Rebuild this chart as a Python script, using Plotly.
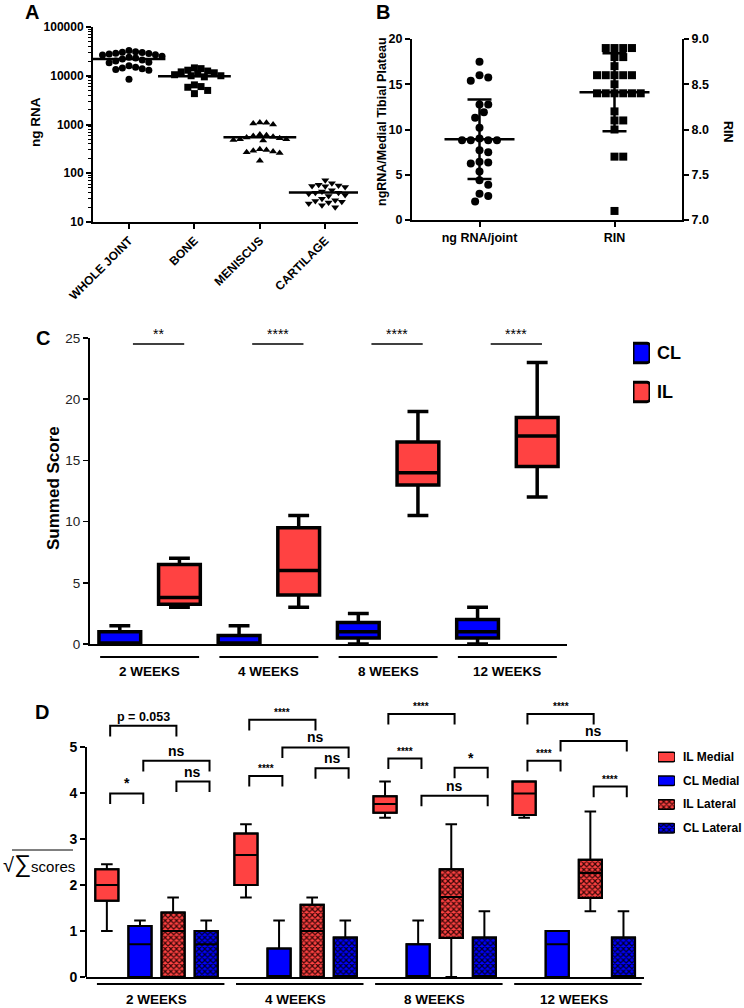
import numpy as np
import plotly.graph_objects as go

W, H = 744, 1008
FONT = "Arial, 'Liberation Sans', Helvetica, sans-serif"
BLUE = "#0000ff"
RED = "#ff4242"
DARK_RED = "#3a0606"
DARK_BLUE = "#00002a"

# ---------------- panel A: RNA yield per tissue (log scale)
tissues = ["WHOLE JOINT", "BONE", "MENISCUS", "CARTILAGE"]
whole_joint = [33000, 31000, 30500, 30000, 29000, 28500, 28000, 27000, 26500, 25000,
               24000, 23000, 22000, 21000, 20000, 19000, 18500, 16000, 15000, 14500,
               14000, 13500, 13000, 8500]
bone = [14500, 14000, 13000, 12500, 12000, 11500, 11000, 10500, 10000, 10000,
        9500, 6500, 6000, 5800, 5000, 4300]
meniscus = [1100, 1080, 1050, 1000, 620, 600, 580, 560, 540, 520, 500, 500, 480,
            470, 310, 300, 290, 280, 270, 260, 180]
cartilage = [72, 62, 58, 56, 55, 54, 52, 45, 42, 40, 40, 38, 36, 34, 30, 28, 27,
             26, 25, 24, 22, 20]
a_series = [whole_joint, bone, meniscus, cartilage]
a_symbols = ["circle", "square", "triangle-up", "triangle-down"]

# ---------------- panel B: ng RNA per joint and RIN
ng_rna_joint = [17.5, 16.0, 15.75, 15.4, 12.75, 12.75, 11.9, 11.3, 10.2, 9.0, 8.8,
                8.8, 8.8, 8.8, 7.7, 7.5, 6.45, 6.35, 6.25, 5.35, 4.4, 3.9, 2.9, 2.65,
                2.05]
rin = [8.9, 8.9, 8.9, 8.9, 8.8, 8.8, 8.7, 8.6, 8.6, 8.6, 8.6, 8.6, 8.5, 8.4, 8.4,
       8.4, 8.4, 8.4, 8.4, 8.2, 8.1, 8.1, 8.0, 7.7, 7.7, 7.1]
b_labels = ["ng RNA/joint", "RIN"]

# ---------------- panel C: summed score, CL vs IL
weeks = ["2 WEEKS", "4 WEEKS", "8 WEEKS", "12 WEEKS"]
c_names = ["CL", "IL"]
cl_min = [0, 0, 0, 0]
cl_q1 = [0, 0, 0.5, 0.5]
cl_med = [0, 0, 1.0, 1.0]
cl_q3 = [1.0, 0.7, 1.75, 2.0]
cl_max = [1.5, 1.5, 2.5, 3.0]
il_min = [3.0, 3.0, 10.5, 12.0]
il_q1 = [3.25, 4.0, 13.0, 14.5]
il_med = [3.8, 6.0, 14.0, 17.0]
il_q3 = [6.5, 9.5, 16.5, 18.5]
il_max = [7.0, 10.5, 19.0, 23.0]
c_sig = ["**", "****", "****", "****"]

# ---------------- panel D: sqrt of summed scores, medial / lateral
d_names = ["IL Medial", "CL Medial", "IL Lateral", "CL Lateral"]
d_min = [[1.0, 1.73, 3.46, 3.46], [0, 0, 0, 0], [0, 0, 0, 1.43], [0, 0, 0, 0]]
d_q1 = [[1.66, 2.0, 3.57, 3.52], [0, 0, 0, 0], [0, 0, 0.85, 1.72], [0, 0, 0, 0]]
d_med = [[2.0, 2.65, 3.76, 3.99], [0.71, 0, 0, 0.71], [1.0, 1.0, 1.74, 2.26],
         [0.71, 0, 0, 0]]
d_q3 = [[2.34, 3.12, 3.93, 4.25], [1.11, 0.62, 0.71, 1.0], [1.40, 1.57, 2.34, 2.55],
        [1.0, 0.86, 0.86, 0.86]]
d_max = [[2.45, 3.32, 4.25, 4.25], [1.23, 1.23, 1.23, 1.0], [1.73, 1.73, 3.32, 3.6],
         [1.23, 1.23, 1.43, 1.43]]
# (week, series a, series b, bracket height, label)
d_comparisons = [
    (0, 0, 2, 5.46, "p = 0.053"), (0, 1, 3, 4.70, "ns"), (0, 0, 1, 3.99, "*"),
    (0, 2, 3, 4.25, "ns"),
    (1, 0, 2, 5.59, "****"), (1, 1, 3, 4.99, "ns"), (1, 0, 1, 4.37, "****"),
    (1, 2, 3, 4.54, "ns"),
    (2, 0, 2, 5.72, "****"), (2, 0, 1, 4.75, "****"), (2, 2, 3, 4.55, "*"),
    (2, 1, 3, 3.94, "ns"),
    (3, 0, 2, 5.72, "****"), (3, 1, 3, 5.13, "ns"), (3, 0, 1, 4.70, "****"),
    (3, 2, 3, 4.14, "****"),
]


def fx(px):
    return px / W


def fy(py):
    return 1 - py / H


def swarm(values, y_scale, x_scale, diam, log=False):
    """Simple beeswarm: horizontal offsets (data units) so markers don't overlap."""
    ys = np.log10(values) if log else np.asarray(values, dtype=float)
    ys = ys * y_scale
    step = diam * 0.55
    placed = []
    offs = np.zeros(len(ys))
    for i in np.argsort(-ys):
        k = 0
        found = None
        while found is None:
            cands = [0.0] if k == 0 else [k * step, -k * step]
            for c in cands:
                if all((c - px) ** 2 + (ys[i] - py) ** 2 >= diam ** 2 for px, py in placed):
                    found = c
                    break
            k += 1
        placed.append((found, ys[i]))
        offs[i] = found / x_scale
    return offs


def bold(size):
    return dict(family=FONT, size=size, color="black", weight="bold")


def note(text, x, y, xref="paper", yref="paper", **kw):
    d = dict(text=text, x=x, y=y, xref=xref, yref=yref, showarrow=False,
             xanchor="center", yanchor="middle")
    d.update(kw)
    return d


def checker(col, dark):
    return dict(shape="x", fgcolor=dark, bgcolor=col, size=4, solidity=0.5)


fig = go.Figure()

# ---- A
for i, (vals, sym) in enumerate(zip(a_series, a_symbols)):
    offs = swarm(vals, 48.75, 65.3, 6.0, log=True)
    fig.add_trace(go.Scatter(
        x=i + offs, y=vals, mode="markers", xaxis="x", yaxis="y",
        marker=dict(symbol=sym, size=7, color="black"),
    ))
    fig.add_trace(go.Scatter(
        x=[i], y=[np.mean(vals)], mode="markers", xaxis="x", yaxis="y",
        marker=dict(symbol="line-ew", size=52, line=dict(width=2.5, color="black")),
    ))

# ---- B
for i, (vals, sym, yax, ysc) in enumerate([
    (ng_rna_joint, "circle", "y2", 9.03),
    (rin, "square", "y5", 90.3),
]):
    offs = swarm(vals, ysc, 136.0, 8.0)
    fig.add_trace(go.Scatter(
        x=i + offs, y=vals, mode="markers", xaxis="x2", yaxis=yax,
        marker=dict(symbol=sym, size=8, color="black"),
    ))
    fig.add_trace(go.Scatter(
        x=[i], y=[np.mean(vals)], mode="markers", xaxis="x2", yaxis=yax,
        marker=dict(symbol="line-ew", size=50, line=dict(width=2.5, color="black")),
        error_y=dict(type="data", array=[np.std(vals, ddof=1)], width=12,
                     thickness=2.5, color="black"),
    ))

# ---- C
pos_cl = [2 * g for g in range(len(weeks))]
pos_il = [2 * g + 1 for g in range(len(weeks))]
c_boxes = [
    (pos_cl, cl_min, cl_q1, cl_med, cl_q3, cl_max, BLUE),
    (pos_il, il_min, il_q1, il_med, il_q3, il_max, RED),
]
for name, (pos, lo, q1, med, q3, hi, col) in zip(c_names, c_boxes):
    fig.add_trace(go.Box(
        x=pos, q1=q1, median=med, q3=q3, lowerfence=lo, upperfence=hi, name=name,
        fillcolor=col, line=dict(color="black", width=3.5), width=0.7,
        whiskerwidth=0.5, xaxis="x3", yaxis="y3",
    ))
# C legend keys (own hidden axes)
for k, (name, box) in enumerate(zip(c_names, c_boxes)):
    fig.add_trace(go.Bar(
        y=[k], x=[1], orientation="h", width=0.5, xaxis="x5", yaxis="y6",
        marker=dict(color=box[-1], line=dict(color="black", width=3), cornerradius=3),
    ))

# ---- D
GROUP_STEP = 4.2
d_pos = [[GROUP_STEP * g + k for g in range(len(weeks))] for k in range(len(d_names))]
d_fill = [(RED, DARK_RED, False), (BLUE, DARK_BLUE, False),
          (RED, DARK_RED, True), (BLUE, DARK_BLUE, True)]
for k, name in enumerate(d_names):
    col, dark, pat = d_fill[k]
    pattern = checker(col, dark) if pat else dict(shape="")
    fig.add_trace(go.Bar(
        x=d_pos[k], y=np.subtract(d_q3[k], d_q1[k]), base=d_q1[k], width=0.7, name=name,
        marker=dict(color=col, line=dict(color="black", width=2), pattern=pattern),
        xaxis="x4", yaxis="y4",
    ))
    # legend key
    fig.add_trace(go.Bar(
        y=[k], x=[1], orientation="h", width=0.4, xaxis="x6", yaxis="y7",
        marker=dict(color=col, line=dict(color="black", width=1.5), pattern=pattern,
                    cornerradius=2),
    ))
for k, name in enumerate(d_names):
    fig.add_trace(go.Box(
        x=d_pos[k], q1=d_q1[k], median=d_med[k], q3=d_q3[k], lowerfence=d_min[k],
        upperfence=d_max[k], fillcolor="rgba(0,0,0,0)",
        line=dict(color="black", width=2), width=0.7, whiskerwidth=0.5,
        xaxis="x4", yaxis="y4",
    ))

axis = dict(showline=True, linecolor="black", linewidth=2, ticks="outside",
            tickcolor="black", tickwidth=2, ticklen=5, showgrid=False, zeroline=False,
            automargin=False)
hidden = dict(visible=False, fixedrange=True, automargin=False)

D_Y0, D_Y5, D_TOP = 977, 747, 700

fig.update_layout(
    template="none",
    width=W, height=H, margin=dict(l=0, r=0, t=0, b=0, pad=0), autosize=False,
    paper_bgcolor="white", plot_bgcolor="white", showlegend=False,
    font=dict(family=FONT, color="black"), barmode="overlay",
    xaxis=dict(axis, domain=[fx(93), fx(358)], anchor="y", range=[-0.55, 3.5],
               tickvals=list(range(len(tissues))), ticktext=tissues, tickangle=-45,
               tickfont=bold(12)),
    yaxis=dict(axis, domain=[fy(222), fy(27)], anchor="x", type="log", range=[1, 5],
               dtick=1, tickformat="d", tickfont=bold(12),
               minor=dict(ticks="outside", ticklen=3, tickcolor="black", tickwidth=1,
                          dtick="D1", showgrid=False)),
    xaxis2=dict(axis, domain=[fx(412), fx(682)], anchor="y2", range=[-0.5, 1.5],
                tickvals=[0, 1], ticktext=b_labels, tickfont=bold(12.5)),
    yaxis2=dict(axis, domain=[fy(220), fy(39)], anchor="x2", range=[0, 20], dtick=5,
                tickfont=bold(12.5)),
    yaxis5=dict(axis, overlaying="y2", side="right", anchor="x2", range=[7, 9],
                dtick=0.5, tickformat=".1f", tickfont=bold(12.5)),
    xaxis3=dict(axis, domain=[fx(90), fx(567)], anchor="y3", range=[-0.5, 7.5],
                ticks="", showticklabels=False),
    yaxis3=dict(axis, domain=[fy(644), fy(338)], anchor="x3", range=[0, 25], dtick=5,
                tickwidth=1.5, tickfont=dict(family=FONT, size=13.5, color="#222")),
    xaxis4=dict(axis, domain=[fx(86), fx(644)], anchor="y4", range=[-0.63, 16.22],
                ticks="", showticklabels=False),
    yaxis4=dict(axis, domain=[fy(D_Y0), fy(D_TOP)], anchor="x4", showline=False,
                range=[0, 5 * (D_Y0 - D_TOP) / (D_Y0 - D_Y5)],
                tickvals=[0, 1, 2, 3, 4, 5], tickfont=bold(14)),
    # legend key axes
    xaxis5=dict(hidden, domain=[fx(633), fx(650)], anchor="y6", range=[0, 1]),
    yaxis6=dict(hidden, domain=[fy(411.5), fy(333.5)], anchor="x5", range=[1.5, -0.5]),
    xaxis6=dict(hidden, domain=[fx(658), fx(675)], anchor="y7", range=[0, 1]),
    yaxis7=dict(hidden, domain=[fy(840), fy(745)], anchor="x6", range=[3.5, -0.5]),
)

ann = []
shapes = []
for letter, x, y in [("A", 32, 12), ("B", 383, 12), ("C", 43, 338), ("D", 42, 712)]:
    ann.append(note(letter, fx(x), fy(y), font=bold(20)))
for text, x, y, ang, f in [
    ("ng RNA", 35, 122, -90, bold(13.5)),
    ("ngRNA/Medial Tibial Plateau", 382, 122, -90, bold(12.5)),
    ("RIN", 728, 132, 90, bold(12.5)),
    ("Summed Score", 53, 488, -90, bold(17)),
]:
    ann.append(note(text, fx(x), fy(y), textangle=ang, font=f))

# legend labels
for k, name in enumerate(c_names):
    ann.append(note(name, fx(655), k, yref="y6", xanchor="left", font=bold(18)))
for k, name in enumerate(d_names):
    ann.append(note(name, fx(681), k, yref="y7", xanchor="left", font=bold(12)))

# D y title: sqrt of sum of scores
ann.append(note(
    "<span style='font-size:20px'>√</span><span style='font-size:24px'>∑</span>scores",
    fx(1), fy(864), xanchor="left", font=dict(family=FONT, size=15, color="black"),
))
shapes.append(dict(type="line", xref="paper", yref="paper", x0=fx(12), x1=fx(73),
                   y0=fy(850), y1=fy(850), line=dict(color="black", width=1)))

# C: significance lines and week labels
for g, (wk, sig) in enumerate(zip(weeks, c_sig)):
    shapes.append(dict(type="line", xref="x3", yref="y3", x0=2 * g + 0.22,
                       x1=2 * g + 1.08, y0=24.5, y1=24.5,
                       line=dict(color="black", width=1.5)))
    ann.append(note(sig, 2 * g + 0.65, 24.5, xref="x3", yref="y3", yanchor="bottom",
                    font=dict(family=FONT, size=14, color="black")))
    shapes.append(dict(type="line", xref="x3", yref="paper", x0=2 * g - 0.33,
                       x1=2 * g + 1.33, y0=fy(657), y1=fy(657),
                       line=dict(color="black", width=2)))
    ann.append(note(wk, 2 * g + 0.5, fy(671), xref="x3", font=bold(13.5)))

# D: y axis line up to 5, brackets, week labels
shapes.append(dict(type="line", xref="paper", yref="y4", x0=fx(86), x1=fx(86),
                   y0=0, y1=5, line=dict(color="black", width=2)))
DROP = 0.23
for g, a, b, yb, label in d_comparisons:
    x0 = d_pos[a][g] + 0.1
    x1 = d_pos[b][g] + 0.1
    shapes.append(dict(type="path", xref="x4", yref="y4",
                       path=f"M{x0},{yb - DROP} L{x0},{yb} L{x1},{yb} L{x1},{yb - DROP}",
                       line=dict(color="black", width=2)))
    size = 10 if label == "****" else (12.5 if label.startswith("p") else 14)
    ann.append(note(label, (x0 + x1) / 2, yb, xref="x4", yref="y4", yanchor="bottom",
                    font=bold(size)))
for g, wk in enumerate(weeks):
    shapes.append(dict(type="line", xref="x4", yref="paper", x0=GROUP_STEP * g - 0.3,
                       x1=GROUP_STEP * g + 3.55, y0=fy(984), y1=fy(984),
                       line=dict(color="black", width=2)))
    ann.append(note(wk, GROUP_STEP * g + 1.5, fy(999), xref="x4", font=bold(13.5)))

fig.update_layout(annotations=ann, shapes=shapes)
# drop the browser's default 8px body margin so the figure fills the window
fig.write_html(
    "out.html",
    config={"staticPlot": True},
    post_script="document.body.style.margin='0';document.body.style.overflow='hidden';",
)
